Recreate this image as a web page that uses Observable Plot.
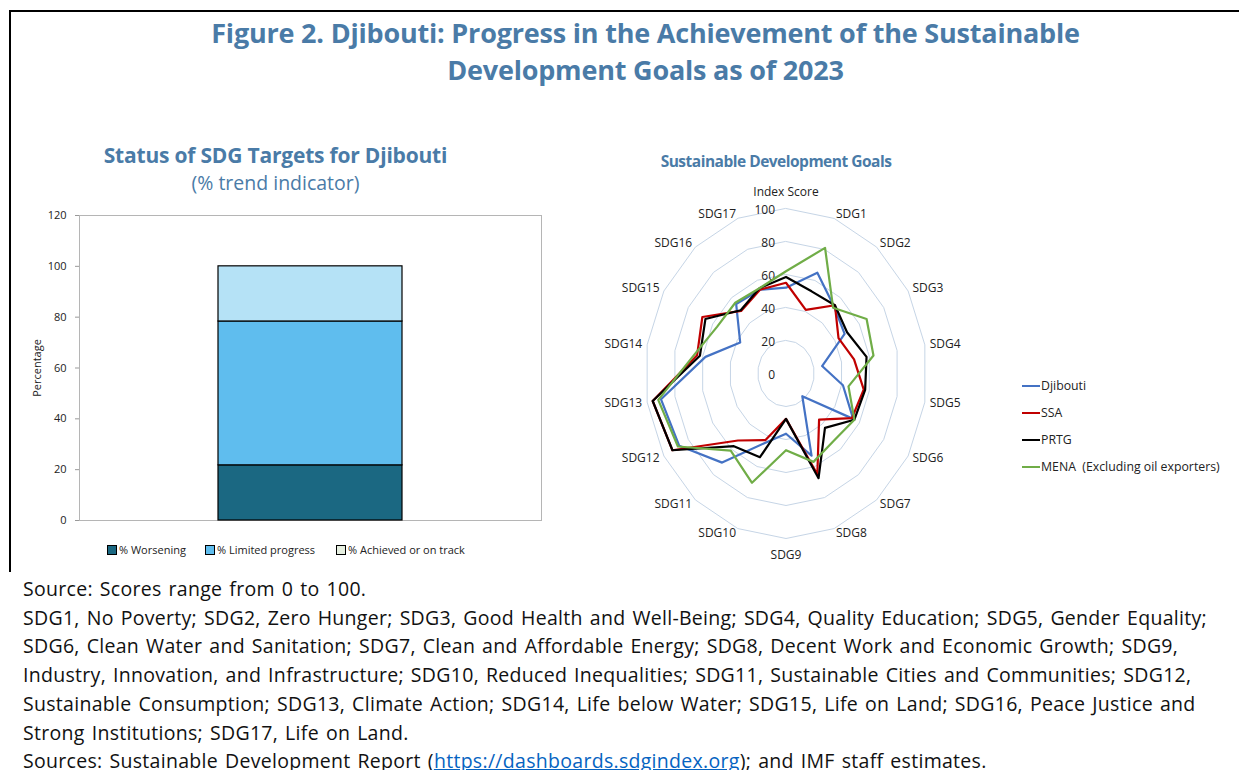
<!DOCTYPE html>
<html><head><meta charset="utf-8">
<script src="https://cdn.jsdelivr.net/npm/d3@7"></script>
<script src="https://cdn.jsdelivr.net/npm/@observablehq/plot@0.6"></script>
<style>
body{margin:0;background:#fff;font-family:"Open Sans",sans-serif;}
#page{position:relative;width:1239px;height:770px;overflow:hidden;background:#fff;}
.abs{position:absolute;}
#title{left:0;width:1291px;top:14px;text-align:center;color:#4a7ba7;font-weight:700;font-size:27px;line-height:37px;letter-spacing:-0.2px;white-space:nowrap;}
#ltitle{left:0;width:551px;top:142px;text-align:center;color:#4a7ba7;font-size:19.5px;line-height:27px;white-space:nowrap;}
#ltitle b{font-weight:700;font-size:21px;letter-spacing:-0.2px;}
#rtitle{left:576px;width:400px;top:150px;text-align:center;color:#4a7ba7;font-weight:700;font-size:15.5px;line-height:22px;letter-spacing:-0.5px;}
.leg{font-size:11px;color:#222;white-space:nowrap;line-height:14px;}
.sw{display:inline-block;width:8px;height:8px;border:1px solid #000;vertical-align:-1px;margin-right:2px;}
.rleg{font-size:12.3px;color:#222;white-space:nowrap;line-height:16px;}
.ln{display:inline-block;width:18px;height:0;border-top:2.5px solid;vertical-align:3px;margin-right:1px;}
#caption{left:23px;top:575px;font-size:19.5px;line-height:28.7px;color:#111;white-space:nowrap;letter-spacing:0.3px;word-spacing:1.6px;}
#caption a{color:#0563c1;text-decoration:underline;}
#bleft{left:9px;top:10px;width:2px;height:562px;background:#000;}
#btop{left:9px;top:10px;width:1240px;height:2px;background:#000;}
</style></head><body>
<div id="page">
<div class="abs" id="btop"></div>
<div class="abs" id="bleft"></div>
<div class="abs" id="title">Figure 2. Djibouti: Progress in the Achievement of the Sustainable<br>Development Goals as of 2023</div>
<div class="abs" id="ltitle"><b>Status of SDG Targets for Djibouti</b><br>(% trend indicator)</div>
<div class="abs" id="rtitle">Sustainable Development Goals</div>
<div class="abs" id="barchart" style="left:0;top:200px;"></div>
<div class="abs" id="radar" style="left:585px;top:175px;"></div>
<div id="barlegend"></div>
<div id="radarlegend"></div>
<div class="abs" id="caption">Source: Scores range from 0 to 100.<br>SDG1, No Poverty; SDG2, Zero Hunger; SDG3, Good Health and Well-Being; SDG4, Quality Education; SDG5, Gender Equality;<br>SDG6, Clean Water and Sanitation; SDG7, Clean and Affordable Energy; SDG8, Decent Work and Economic Growth; SDG9,<br>Industry, Innovation, and Infrastructure; SDG10, Reduced Inequalities; SDG11, Sustainable Cities and Communities; SDG12,<br>Sustainable Consumption; SDG13, Climate Action; SDG14, Life below Water; SDG15, Life on Land; SDG16, Peace Justice and<br>Strong Institutions; SDG17, Life on Land.<br>Sources: Sustainable Development Report (<a>https://dashboards.sdgindex.org</a>); and IMF staff estimates.</div>
</div>
<script>
// ---- Bar chart data ----
const barCategories = ["% Worsening", "% Limited progress", "% Achieved or on track"];
const barValues = [21.7, 56.6, 21.7];
const barColors = ["#1b6882", "#5fbdee", "#b5e2f6"];
const barTicks = [0, 20, 40, 60, 80, 100, 120];

// ---- Radar data ----
const radarAxes = ["Index Score","SDG1","SDG2","SDG3","SDG4","SDG5","SDG6","SDG7","SDG8","SDG9","SDG10","SDG11","SDG12","SDG13","SDG14","SDG15","SDG16","SDG17"];
const seriesNames = ["Djibouti", "SSA", "PRTG", "MENA  (Excluding oil exporters)"];
const seriesColors = ["#4472c4", "#c00000", "#000000", "#70ad47"];
const djibouti = [52, 65, 53, 48, 26, 41, 55, 18, 53, 36.5, 45, 70.5, 87.5, 90, 58, 37.5, 55, 54];
const ssa      = [55, 41, 54, 43, 49, 56, 54, 36.5, 65, 27.5, 43, 53, 93, 96, 64, 68.5, 49.5, 54];
const prtg     = [58.5, 53, 54, 50, 58, 57, 56, 43, 67.5, 27.5, 54, 57.5, 93, 96, 62, 66, 50, 55];
const mena     = [62, 81, 52, 66, 63, 45, 56, 53, 57, 46.5, 70.5, 61, 88.5, 92, 66, 56.5, 56, 55];
const radarRings = [20, 40, 60, 80, 100];
const radarTickLabels = [0, 20, 40, 60, 80, 100];

// ---- Bar chart ----
const barData = barCategories.map((c, i) => ({group: "Djibouti", status: c, value: barValues[i]}));
const bar = Plot.plot({
  width: 560, height: 330,
  marginLeft: 79, marginRight: 19, marginTop: 15, marginBottom: 10,
  style: {fontFamily: "Open Sans, sans-serif", fontSize: "11px", color: "#222"},
  x: {axis: null, paddingInner: 0, paddingOuter: 0.75},
  y: {domain: [0, 120]},
  color: {domain: barCategories, range: barColors},
  marks: [
    Plot.frame({stroke: "#b5b5b5"}),
    Plot.axisY({ticks: barTicks, tickSize: 4, tickPadding: 9, stroke: "#999", label: "Percentage", labelAnchor: "center", labelArrow: "none", labelOffset: 46, fontSize: 11}),
    Plot.barY(barData, {x: "group", y: "value", fill: "status", stroke: "#000", strokeWidth: 1.2})
  ]
});
document.getElementById("barchart").appendChild(bar);

// bar legend
const legPos = [107, 205, 336];
const bl = document.getElementById("barlegend");
barCategories.forEach((c, i) => {
  const d = document.createElement("div");
  d.className = "abs leg";
  d.style.left = legPos[i] + "px"; d.style.top = "543px";
  d.innerHTML = `<span class="sw" style="background:${i === 2 ? "#e6efe0" : barColors[i]}"></span>${c}`;
  bl.appendChild(d);
});

// ---- Radar ----
const W = 430, H = 400, cxp = 200.5, cyp = 198, kx = 1.41, ky = 1.65;
const ang = k => k * 2 * Math.PI / radarAxes.length;
const ringPts = radarRings.flatMap(r => radarAxes.map((a, k) => ({r, x: r * Math.sin(ang(k)), y: r * Math.cos(ang(k))})));
const allSeries = [djibouti, ssa, prtg, mena];
const seriesPts = allSeries.flatMap((vals, s) => vals.map((v, k) => ({series: seriesNames[s], x: v * Math.sin(ang(k)), y: v * Math.cos(ang(k))})));
const labelPts = radarAxes.map((a, k) => {
  const s = Math.sin(ang(k)), c = Math.cos(ang(k));
  const side = s > 0.05 ? "start" : s < -0.05 ? "end" : "middle";
  const pad = side === "middle" ? 16.5 : 5;
  return {name: a, side, x: 100 * s + pad * s / kx, y: 100 * c + pad * c / ky};
});
const radar = Plot.plot({
  width: W, height: H, margin: 0,
  style: {fontFamily: "Open Sans, sans-serif", fontSize: "12px", color: "#222", overflow: "visible"},
  x: {domain: [-cxp / kx, (W - cxp) / kx], axis: null},
  y: {domain: [-(H - cyp) / ky, cyp / ky], axis: null},
  color: {domain: seriesNames, range: seriesColors},
  marks: [
    Plot.line(ringPts, {x: "x", y: "y", z: "r", curve: "linear-closed", stroke: "#c6d5e6", strokeWidth: 1}),
    Plot.text(radarTickLabels, {x: 0, y: d => d, text: d => String(d), textAnchor: "end", dx: -11, dy: 2, fill: "#222"}),
    Plot.line(seriesPts, {x: "x", y: "y", z: "series", stroke: "series", curve: "linear-closed", strokeWidth: 2.2}),
    Plot.text(labelPts.filter(d => d.side === "start"), {x: "x", y: "y", text: "name", textAnchor: "start", fill: "#222"}),
    Plot.text(labelPts.filter(d => d.side === "end"), {x: "x", y: "y", text: "name", textAnchor: "end", fill: "#222"}),
    Plot.text(labelPts.filter(d => d.side === "middle"), {x: "x", y: "y", text: "name", textAnchor: "middle", fill: "#222"})
  ]
});
document.getElementById("radar").appendChild(radar);

// radar legend
const rl = document.getElementById("radarlegend");
seriesNames.forEach((n, i) => {
  const d = document.createElement("div");
  d.className = "abs rleg";
  d.style.left = "1022px"; d.style.top = (378 + i * 27) + "px";
  d.innerHTML = `<span class="ln" style="border-color:${seriesColors[i]}"></span>${n.replace(/  /g, "&nbsp; ")}`;
  rl.appendChild(d);
});
</script>
</body></html>
